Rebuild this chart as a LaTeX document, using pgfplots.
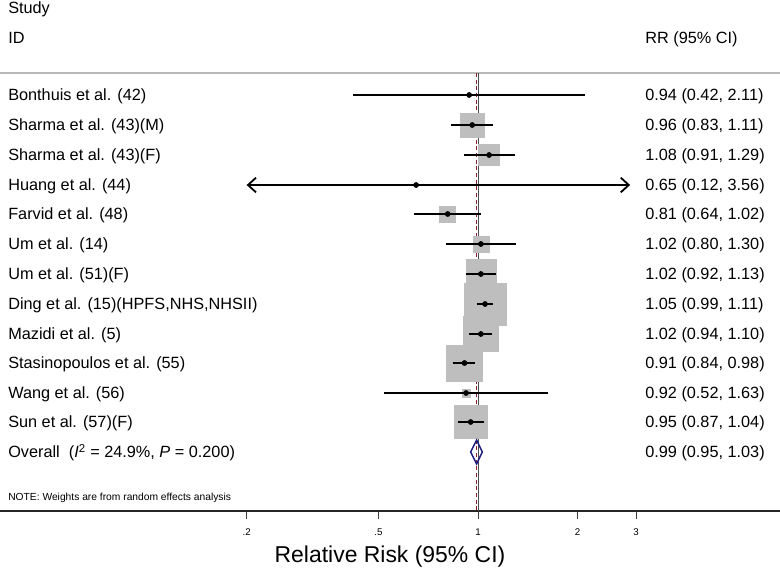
\documentclass[border=0pt]{standalone}
\usepackage{pgfplots}
\pgfplotsset{compat=1.18}
\usepackage{pgfplotstable}
\usepackage{fontspec}
\setmainfont{Liberation Sans}
\usetikzlibrary{arrows.meta}
\definecolor{boxgray}{RGB}{190,190,190}
\definecolor{ovred}{RGB}{140,30,50}
\definecolor{dnavy}{RGB}{30,30,130}

% y = vertical position of the study row (px from top), point estimate, CI, box width (px, from study weight)
\pgfplotstableread{
y rr lo hi box
95 0.94 0.42 2.11 0.01
125 0.96 0.83 1.11 24
155 1.08 0.91 1.29 21
185 0.65 0.12 3.56 0.01
214 0.81 0.64 1.02 16
244 1.02 0.80 1.30 16
274 1.02 0.92 1.13 30
304 1.05 0.99 1.11 42
334 1.02 0.94 1.10 35
363 0.91 0.84 0.98 36
393 0.92 0.52 1.63 8
422 0.95 0.87 1.04 33
}\data

\begin{document}
\begin{tikzpicture}[
  lab/.style={font=\fontsize{12.2}{14}\selectfont, inner sep=0pt, anchor=base west, yshift=-4.4pt},
  note/.style={font=\fontsize{7.7}{9}\selectfont, inner sep=0pt, anchor=base west, yshift=-2.8pt},
  ci/.style={black, line width=1.35pt}]
\begin{axis}[
  at={(0,0)}, anchor=south west,
  scale only axis, width=585pt, height=383.25pt,
  xmode=log, xmin=0.03596, xmax=8.17,
  y dir=reverse, ymin=0, ymax=511,
  axis y line=none, axis x line*=bottom,
  x axis line style={-, line width=0.9pt, black!85},
  xtick={0.2,0.5,1,2,3},
  xticklabels={\textrm{.2},\textrm{.5},\textrm{1},\textrm{2},\textrm{3}},
  xminorticks=false,
  tick align=outside, major tick length=6pt,
  tick style={line width=0.6pt, black!75},
  xticklabel style={font=\fontsize{7.3}{9}\selectfont, yshift=-4pt},
  xlabel={Relative Risk (95\% CI)},
  xlabel style={at={(axis description cs:0.5,0)}, anchor=center, yshift=-34.5pt, font=\fontsize{17.2}{20}\selectfont},
  clip=false, clip marker paths=true,
]
% header rule
\addplot[gray!55, line width=0.8pt] coordinates {(0.03596,73) (8.17,73)};
% null line and overall line
\addplot[black!70, line width=0.6pt] coordinates {(1,73) (1,511)};
\addplot[ovred, line width=0.8pt, dash pattern=on 3pt off 2pt] coordinates {(0.99,73) (0.99,511)};
% weight boxes
\addplot[scatter, only marks, mark=square*,
  scatter/use mapped color={draw=boxgray, fill=boxgray},
  visualization depends on={\thisrow{box}*0.375 \as \msize},
  scatter/@pre marker code/.append style={/tikz/mark size=\msize, /tikz/line width=0pt}]
  table[x=rr, y=y] {\data};
% confidence intervals
\addplot[ci] coordinates {(0.42,95) (2.11,95)};
\addplot[ci] coordinates {(0.83,125) (1.11,125)};
\addplot[ci] coordinates {(0.91,155) (1.29,155)};
\addplot[ci, {Straight Barb[length=6pt,width=11pt]}-{Straight Barb[length=6pt,width=11pt]}] coordinates {(0.2,185) (2.88,185)};
\addplot[ci] coordinates {(0.64,214) (1.02,214)};
\addplot[ci] coordinates {(0.80,244) (1.30,244)};
\addplot[ci] coordinates {(0.92,274) (1.13,274)};
\addplot[ci] coordinates {(0.99,304) (1.11,304)};
\addplot[ci] coordinates {(0.94,334) (1.10,334)};
\addplot[ci] coordinates {(0.84,363) (0.98,363)};
\addplot[ci] coordinates {(0.52,393) (1.63,393)};
\addplot[ci] coordinates {(0.87,422) (1.04,422)};
% point estimates
\addplot[only marks, mark=*, mark size=1.9pt, black] table[x=rr, y=y] {\data};
% overall diamond
\addplot[dnavy, line width=1.1pt, line join=miter] coordinates {(0.95,452) (0.99,440) (1.03,452) (0.99,464) (0.95,452) (0.99,440)};

% text columns
\node[lab] at (axis cs:0.03802,8) {Study};
\node[lab] at (axis cs:0.03802,38) {ID};
\node[lab] at (axis cs:3.196,38) {RR (95\% CI)};
\node[lab] at (axis cs:0.03802,95) {Bonthuis et al. (42)};
\node[lab] at (axis cs:0.03802,125) {Sharma et al. (43)(M)};
\node[lab] at (axis cs:0.03802,155) {Sharma et al. (43)(F)};
\node[lab] at (axis cs:0.03802,185) {Huang et al. (44)};
\node[lab] at (axis cs:0.03802,214) {Farvid et al. (48)};
\node[lab] at (axis cs:0.03802,244) {Um et al. (14)};
\node[lab] at (axis cs:0.03802,274) {Um et al. (51)(F)};
\node[lab] at (axis cs:0.03802,304) {Ding et al. (15)(HPFS,NHS,NHSII)};
\node[lab] at (axis cs:0.03802,334) {Mazidi et al. (5)};
\node[lab] at (axis cs:0.03802,363) {Stasinopoulos et al. (55)};
\node[lab] at (axis cs:0.03802,393) {Wang et al. (56)};
\node[lab] at (axis cs:0.03802,422) {Sun et al. (57)(F)};
\node[lab] at (axis cs:0.03802,452) {Overall\ \ (\textit{I}\textsuperscript{2} = 24.9\%, \textit{P} = 0.200)};
\node[lab] at (axis cs:3.196,95) {0.94 (0.42, 2.11)};
\node[lab] at (axis cs:3.196,125) {0.96 (0.83, 1.11)};
\node[lab] at (axis cs:3.196,155) {1.08 (0.91, 1.29)};
\node[lab] at (axis cs:3.196,185) {0.65 (0.12, 3.56)};
\node[lab] at (axis cs:3.196,214) {0.81 (0.64, 1.02)};
\node[lab] at (axis cs:3.196,244) {1.02 (0.80, 1.30)};
\node[lab] at (axis cs:3.196,274) {1.02 (0.92, 1.13)};
\node[lab] at (axis cs:3.196,304) {1.05 (0.99, 1.11)};
\node[lab] at (axis cs:3.196,334) {1.02 (0.94, 1.10)};
\node[lab] at (axis cs:3.196,363) {0.91 (0.84, 0.98)};
\node[lab] at (axis cs:3.196,393) {0.92 (0.52, 1.63)};
\node[lab] at (axis cs:3.196,422) {0.95 (0.87, 1.04)};
\node[lab] at (axis cs:3.196,452) {0.99 (0.95, 1.03)};
\node[note] at (axis cs:0.03802,497) {NOTE: Weights are from random effects analysis};
\end{axis}
\pgfresetboundingbox
\useasboundingbox (0,-42pt) rectangle (585pt,383.25pt);
\end{tikzpicture}
\end{document}
